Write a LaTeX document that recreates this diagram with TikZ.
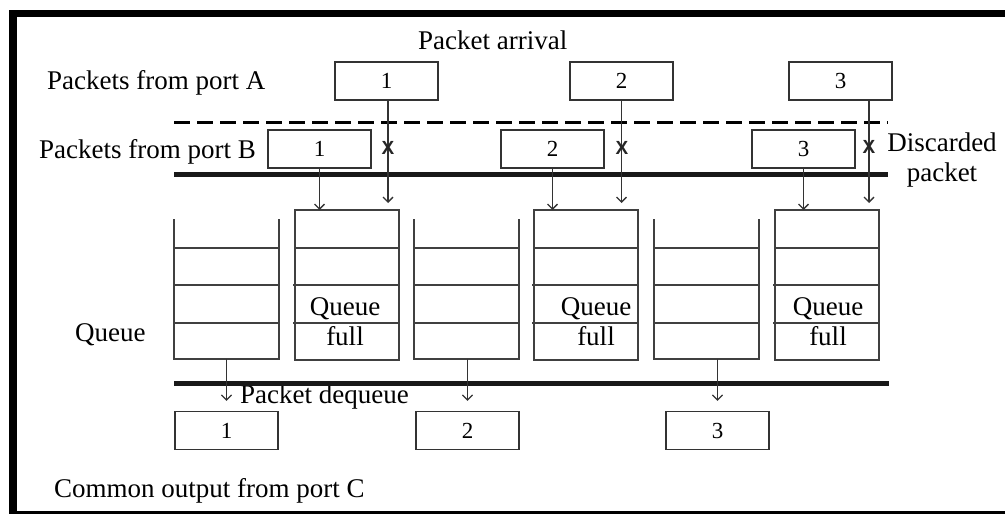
\documentclass[tikz,border=0pt]{standalone}
\usepackage{fontspec}
\setmainfont{Liberation Serif}
\setsansfont{Liberation Sans}
\usetikzlibrary{positioning, arrows.meta}
\tikzset{
  pkt/.style={draw=black!80, line width=1.3pt, minimum width=103pt, minimum height=38pt, inner sep=0pt, font=\fontsize{23}{24}\selectfont},
  lbl/.style={inner sep=0pt, font=\fontsize{27}{30}\selectfont},
  drop/.style={inner sep=0pt, font=\sffamily\bfseries\fontsize{19}{20}\selectfont, text=black!85},
  flow/.style={draw=black!80, line width=1.3pt, -{Straight Barb[length=5pt,width=10pt]}},
  qline/.style={draw=black!75, line width=1.3pt},
  bus/.style={line width=5pt, black!90},
}

\begin{document}
\begin{tikzpicture}[x=1pt,y=-1pt]
\useasboundingbox (0,0) rectangle (1005,514);
% frame
\fill (9,10) rectangle (1005,17);
\fill (9,10) rectangle (17,514);
\fill (9,511) rectangle (1005,514);

% labels
\node[lbl, anchor=base west] (arrival) at (418,49) {Packet arrival};
\node[lbl, anchor=base west] (portA) at (47,89) {Packets from port A};
\node[lbl, anchor=base west] (portB) at (39,158) {Packets from port B};
\node[lbl, align=center] (disc) at (942,160) {Discarded\\packet};
\node[lbl, anchor=base west] (qlbl) at (75,341) {Queue};
\node[lbl, anchor=base west] (deq) at (240,403) {Packet dequeue};
\node[lbl, anchor=base west] (portC) at (54,497) {Common output from port C};

% packets from port A and port B
\node[pkt] (a1) at (386.5,81) {1};
\node[pkt] (a2) at (621.5,81) {2};
\node[pkt] (a3) at (840.5,81) {3};
\node[pkt] (b1) at (319.5,149) {1};
\node[pkt] (b2) at (552.5,149) {2};
\node[pkt] (b3) at (803.5,149) {3};

\draw[line width=3pt, dash pattern=on 16pt off 7pt] (174,122) -- (888,122); % dashed separator
\draw[bus] (174,174) -- (888,174);
\draw[bus] (174,383) -- (889,383);

% queues, open ones
\foreach \x/\n in {174/q1,414/q3,654/q5} {
  \draw[qline] (\x,219) -- (\x,359) -- (\x+105,359) -- (\x+105,219);
  \draw[qline] (\x,248) -- +(105,0) (\x,285) -- +(105,0) (\x,323) -- +(105,0);
  \coordinate (\n) at (\x+52.5,359);
}
% queues, full ones
\foreach \x/\n in {295/q2,534/q4,775/q6} {
  \draw[qline] (\x,210) rectangle +(104,150);
  \draw[qline] (\x,248) -- +(104,0) (\x-2,285) -- +(106,0) (\x-2,323) -- +(106,0);
  \coordinate (\n) at (\x+52,210);
}
\node[lbl, align=center] (f2) at (345,322) {Queue\\full};
\node[lbl, align=center] (f4) at (596,322) {Queue\\full};
\node[lbl, align=center] (f6) at (828,322) {Queue\\full};

% outputs at port C
\node[pkt] (c1) at (226.5,430.5) {1};
\node[pkt] (c2) at (467.5,430.5) {2};
\node[pkt] (c3) at (717.5,430.5) {3};

% arrivals
\coordinate (stop) at (0,203);
\draw[flow] ([xshift=1.5pt]a1.south) -- ([xshift=1.5pt]a1.south |- stop);
\draw[flow] (a2.south) -- (a2.south |- stop);
\draw[flow] ([xshift=28.5pt]a3.south) -- ([xshift=28.5pt]a3.south |- stop);
\draw[flow] (b1.south) -- (b1.south |- q2);
\draw[flow] (b2.south) -- (b2.south |- q4);
\draw[flow] (b3.south) -- (b3.south |- q6);
\node[drop] (x1) at (388,148) {X};
\node[drop] (x2) at (622,148) {X};
\node[drop] (x3) at (869,147) {X};

% dequeue
\draw[flow] (c1.north |- q1) -- ([yshift=10pt]c1.north);
\draw[flow] (c2.north |- q3) -- ([yshift=10pt]c2.north);
\draw[flow] (c3.north |- q5) -- ([yshift=10pt]c3.north);
\end{tikzpicture}
\end{document}
